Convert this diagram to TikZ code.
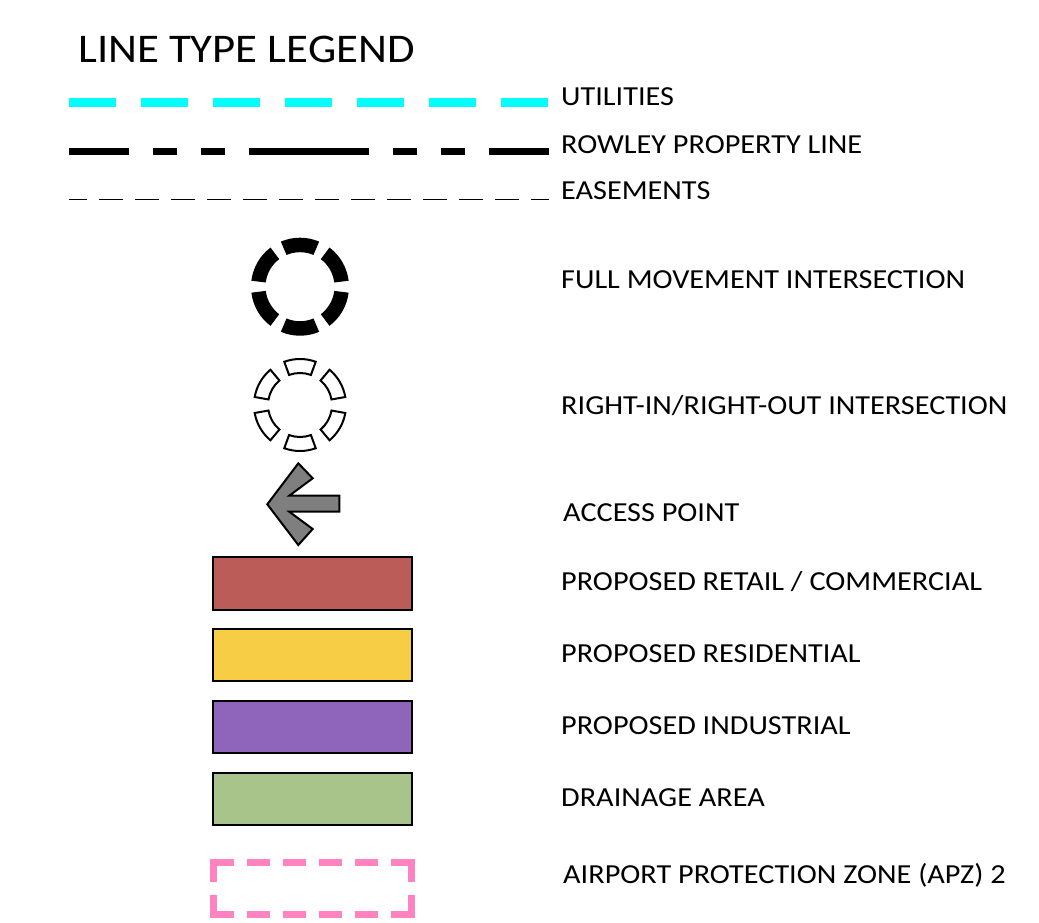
\documentclass[tikz,border=0pt]{standalone}
\usepackage{fontspec}
\setmainfont{Carlito}[FakeStretch=1.1]
\definecolor{utilcyan}{HTML}{00FFFF}
\definecolor{retailred}{HTML}{BC5C58}
\definecolor{resyellow}{HTML}{F7CD45}
\definecolor{indpurple}{HTML}{8E65BB}
\definecolor{drangreen}{HTML}{A9C48B}
\definecolor{apzpink}{HTML}{FF82C1}
\definecolor{arrowgray}{HTML}{7F7F7F}
\tikzset{
  lbl/.style={anchor=base west, inner sep=0pt, font=\fontsize{27.5}{32}\selectfont},
  ttl/.style={anchor=base west, inner sep=0pt, font=\fontsize{40.7}{46}\selectfont},
  swatch/.style={draw=black, line width=2pt},
  apz/.style={draw=apzpink, line width=7pt, line cap=butt, line join=miter},
}
\begin{document}
\begin{tikzpicture}[x=1pt,y=1pt]
\useasboundingbox (0,0) rectangle (1039,-923);
\fill[white] (0,0) rectangle (1039,-923);

% title
\node[ttl] (title) at (78,-62.3) {LINE TYPE LEGEND};

% line samples
\coordinate (u1) at (69,-103);  \coordinate (u2) at (548,-103);
\coordinate (p1) at (69,-152);  \coordinate (p2) at (549,-152);
\coordinate (e1) at (69,-199.5);\coordinate (e2) at (549,-199.5);
\draw[utilcyan, line width=9pt, dash pattern=on 47pt off 25pt] (u1) -- (u2);
\draw[black, line width=7pt, dash pattern=on 120pt off 24pt on 24pt off 24pt on 24pt off 24pt, dash phase=60pt] (p1) -- (p2);
\draw[black, line width=1.5pt, dash pattern=on 24pt off 12pt, dash phase=6pt] (e1) -- (e2);

% full movement intersection
\begin{scope}[shift={(300,-286.7)}]
  \foreach \a in {30,90,...,330}
    \fill[black] ({\a-23}:49) arc[start angle={\a-23}, end angle={\a+23}, radius=49]
      -- ({\a+23}:34.5) arc[start angle={\a+23}, end angle={\a-23}, radius=34.5] -- cycle;
\end{scope}

% right-in/right-out intersection
\begin{scope}[shift={(300,-405)}]
  \foreach \a in {30,90,...,330}
    \draw[black, line width=2pt, fill=white] ({\a-20}:46) arc[start angle={\a-20}, end angle={\a+20}, radius=46]
      -- ({\a+20}:32) arc[start angle={\a+20}, end angle={\a-20}, radius=32] -- cycle;
\end{scope}

% access arrow
\draw[black, line width=2pt, fill=arrowgray, line join=miter]
  (267.3,-504.3) -- (298.3,-463.3) -- (312.7,-478.3) -- (289.3,-495.7)
  -- (339.3,-495.7) -- (339.3,-511.7) -- (289.3,-511.7) -- (312.7,-529)
  -- (298.3,-545) -- cycle;

% swatches
\draw[swatch, fill=retailred] (213.3,-557) rectangle (411.5,-609.5);
\draw[swatch, fill=resyellow] (213.3,-629) rectangle (411.5,-681);
\draw[swatch, fill=indpurple] (213.3,-701) rectangle (411.5,-752.7);
\draw[swatch, fill=drangreen] (213.3,-772.5) rectangle (411.5,-825);

% airport protection zone box
\draw[apz] (213,-882.3) -- (213,-862) -- (234,-862);
\draw[apz] (390.7,-862) -- (411.5,-862) -- (411.5,-882.3);
\draw[apz] (411.5,-895) -- (411.5,-914.7) -- (390.7,-914.7);
\draw[apz] (234,-914.7) -- (213,-914.7) -- (213,-895);
\foreach \x in {246.7,282.7,318.7,354.7} {
  \draw[apz] (\x,-862) -- ++(23.3,0);
  \draw[apz] (\x,-914.7) -- ++(23.3,0);
}

% labels
\node[lbl] (l1) at (561,-105.7) {UTILITIES};
\node[lbl] (l2) at (561,-153.3) {ROWLEY PROPERTY LINE};
\node[lbl] (l3) at (561,-200) {EASEMENTS};
\node[lbl] (l4) at (561,-288.3) {FULL MOVEMENT INTERSECTION};
\node[lbl] (l5) at (561,-414.2) {RIGHT-IN/RIGHT-OUT INTERSECTION};
\node[lbl] (l6) at (563,-521) {ACCESS POINT};
\node[lbl] (l7) at (561,-590) {PROPOSED RETAIL / COMMERCIAL};
\node[lbl] (l8) at (561,-662) {PROPOSED RESIDENTIAL};
\node[lbl] (l9) at (561,-734) {PROPOSED INDUSTRIAL};
\node[lbl] (l10) at (561,-806) {DRAINAGE AREA};
\node[lbl] (l11) at (563,-883) {AIRPORT PROTECTION ZONE (APZ) 2};
\end{tikzpicture}
\end{document}
